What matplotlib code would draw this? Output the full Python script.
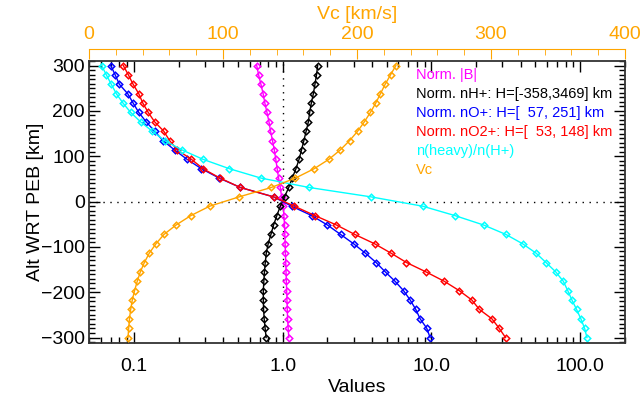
import matplotlib
matplotlib.use("Agg")
import matplotlib.pyplot as plt
from matplotlib.ticker import MultipleLocator, LogLocator, NullFormatter

plt.rcParams['font.family'] = ['Liberation Sans', 'DejaVu Sans']

# altitude grid (km, relative to PEB), 30 samples from -300 to 300
alt = [-300.0, -279.3, -258.6, -237.9, -217.2, -196.6, -175.9, -155.2, -134.5, -113.8,
       -93.1, -72.4, -51.7, -31.0, -10.3, 10.3, 31.0, 51.7, 72.4, 93.1,
       113.8, 134.5, 155.2, 175.9, 196.6, 217.2, 237.9, 258.6, 279.3, 300.0]

norm_b = [1.10, 1.09, 1.08, 1.075, 1.07, 1.065, 1.06, 1.055, 1.05, 1.045,
          1.04, 1.035, 1.03, 1.02, 1.01, 0.985, 0.965, 0.94, 0.92, 0.90,
          0.88, 0.855, 0.83, 0.81, 0.785, 0.76, 0.74, 0.715, 0.69, 0.67]

norm_nh = [0.775, 0.763, 0.752, 0.745, 0.742, 0.742, 0.748, 0.755, 0.765, 0.777,
           0.80, 0.835, 0.87, 0.915, 0.965, 1.03, 1.10, 1.16, 1.23, 1.29,
           1.34, 1.39, 1.44, 1.49, 1.52, 1.56, 1.61, 1.65, 1.69, 1.72]

norm_no = [9.8, 9.3, 8.4, 7.85, 7.2, 6.5, 5.7, 4.9, 4.25, 3.6,
           3.0, 2.45, 2.0, 1.57, 1.15, 0.87, 0.52, 0.375, 0.285, 0.228,
           0.188, 0.157, 0.138, 0.121, 0.108, 0.099, 0.091, 0.080, 0.075, 0.070]

norm_no2 = [31.5, 28.5, 25.5, 21.0, 18.7, 15.4, 12.2, 9.2, 6.8, 5.35,
            4.15, 3.05, 2.3, 1.65, 1.2, 0.87, 0.52, 0.38, 0.292, 0.244,
            0.196, 0.174, 0.159, 0.138, 0.125, 0.115, 0.108, 0.099, 0.092, 0.085]

heavy_ratio = [111, 107, 101, 94.5, 88, 82.5, 77, 68.5, 58.9, 50.5,
               41, 31.6, 22.4, 14.4, 8.75, 3.93, 1.51, 0.716, 0.439, 0.292,
               0.211, 0.161, 0.133, 0.111, 0.0953, 0.0846, 0.0763, 0.0706, 0.0654, 0.0608]

vc = [29.1, 29.6, 30.2, 31.1, 32.3, 34.0, 36.0, 38.3, 41.3, 45.0,
      50.0, 56.0, 65.0, 76.0, 90.0, 112.0, 136.0, 154.0, 168.0, 179.0,
      187.5, 194.5, 200.5, 205.5, 210.0, 214.0, 217.5, 221.0, 225.0, 229.0]

series = [
    (norm_b, 'magenta', 'Norm. |B|'),
    (norm_nh, 'black', 'Norm. nH+: H=[-358,3469] km'),
    (norm_no, 'blue', 'Norm. nO+: H=[  57, 251] km'),
    (norm_no2, 'red', 'Norm. nO2+: H=[  53, 148] km'),
    (heavy_ratio, 'cyan', 'n(heavy)/n(H+)'),
]
orange = '#FFA500'

fig = plt.figure(figsize=(6.42, 4.0), dpi=100)
ax = fig.add_axes([89 / 642, 57 / 400, 536 / 642, 282 / 400])

ax.axhline(0, color='black', lw=1, ls=(0, (1, 4)), zorder=1)
ax.axvline(1.0, color='black', lw=1, ls=(0, (1, 4)), zorder=1)

for vals, col, lab in series:
    ax.plot(vals, alt, color=col, lw=1, marker='D', ms=3.3, mfc='none', mew=1.1)

ax.set_xscale('log')
ax.set_xlim(0.05, 200)
ax.set_ylim(-312, 310)
ax.set_xticks([0.1, 1, 10, 100])
ax.set_xticklabels(['0.1', '1.0', '10.0', '100.0'])
ax.xaxis.set_minor_locator(LogLocator(base=10, subs=range(2, 10), numticks=20))
ax.xaxis.set_minor_formatter(NullFormatter())
ax.yaxis.set_major_locator(MultipleLocator(100))
ax.yaxis.set_minor_locator(MultipleLocator(10))
ax.set_xlabel('Values', fontsize=14, labelpad=3)
ax.set_ylabel('Alt WRT PEB [km]', fontsize=14, labelpad=-2)

for sp in ax.spines.values():
    sp.set_color('#333333')
    sp.set_linewidth(1.3)

# top axis for Vc
ax2 = ax.twiny()
ax2.plot(vc, alt, color=orange, lw=1, marker='D', ms=3.3, mfc='none', mew=1.1)
ax2.set_xlim(0, 400)
ax2.xaxis.set_major_locator(MultipleLocator(100))
ax2.xaxis.set_minor_locator(MultipleLocator(20))
ax2.spines['top'].set_position(('outward', 9))
ax2.spines['top'].set_color(orange)
for s in ['bottom', 'left', 'right']:
    ax2.spines[s].set_visible(False)
ax2.tick_params(axis='x', which='both', colors=orange, direction='in', labelsize=14, pad=4)
ax2.tick_params(axis='x', which='major', length=7)
ax2.tick_params(axis='x', which='minor', length=4)
ax2.set_xlabel('Vc [km/s]', color=orange, fontsize=14, labelpad=5)

ax.tick_params(axis='both', which='both', direction='in', top=True, right=True,
               labelsize=14, color='black')
ax.tick_params(axis='both', which='major', length=8, width=1)
ax.tick_params(axis='both', which='minor', length=4, width=1)
ax.tick_params(axis='x', which='both', labeltop=False, pad=11)
ax.tick_params(axis='y', which='both', pad=3)

# legend as coloured text lines
ys = [0.950, 0.883, 0.816, 0.748, 0.681, 0.613]
labels = [(lab, col) for _, col, lab in series] + [('Vc', orange)]
for (lab, col), yy in zip(labels, ys):
    ax.text(0.61, yy, lab, color=col, fontsize=10.5, transform=ax.transAxes,
            va='center', ha='left')

fig.savefig('out.png', dpi=100)
